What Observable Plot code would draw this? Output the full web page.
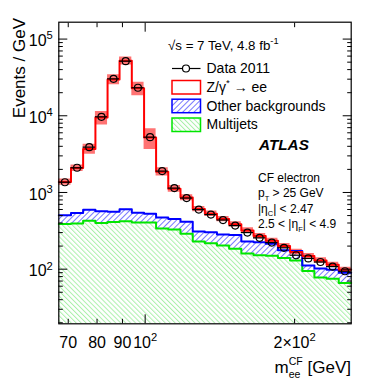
<!DOCTYPE html>
<html><head><meta charset="utf-8">
<script src="https://cdn.jsdelivr.net/npm/d3@7"></script>
<script src="https://cdn.jsdelivr.net/npm/@observablehq/plot@0.6"></script>
<style>html,body{margin:0;padding:0;background:#fff}svg{display:block}</style>
</head><body><div id="chart"></div>
<script>
// ---- data ----
const binEdges = [67, 70.9, 75.0, 79.4, 84.0, 88.8, 94.0, 99.5, 105.2, 111.3, 117.8, 124.7, 131.9, 139.5, 147.6, 156.2, 165.3, 174.9, 185.1, 195.8, 207.2, 219.2, 231.9, 245.4, 260];
const data2011 = [1360, 2100, 3900, 9700, 30300, 51500, 23200, 5260, 1900, 1140, 845, 598, 515, 437, 370, 300, 256, 222, 190, 152, 138, 124, 108, 94];
const predictionTotal = [1370, 2080, 3700, 9500, 29800, 52000, 22800, 5200, 1870, 1120, 860, 610, 530, 450, 385, 320, 270, 235, 200, 168, 148, 130, 114, 98];
const predictionRelUnc = [0.09, 0.10, 0.15, 0.20, 0.15, 0.12, 0.20, 0.30, 0.12, 0.10, 0.09, 0.08, 0.08, 0.08, 0.08, 0.08, 0.08, 0.08, 0.08, 0.08, 0.08, 0.08, 0.08, 0.08];
const backgroundStackTop = [505, 540, 595, 568, 560, 605, 545, 530, 472, 450, 415, 310, 303, 284, 280, 230, 225, 215, 176, 172, 112, 102, 98, 90];
const multijets = [388, 395, 427, 400, 412, 420, 405, 405, 340, 328, 289, 230, 218, 204, 184, 160, 152, 150, 140, 130, 95, 78, 75, 66];

const xDomain = [67, 260];
const yDomain = [19.4, 166000];
const yMajorTicks = [100, 1000, 10000, 100000];
const yMajorLabels = ["10^{2}", "10^{3}", "10^{4}", "10^{5}"];
const yMinorTicks = [20,30,40,50,60,70,80,90,200,300,400,500,600,700,800,900,2000,3000,4000,5000,6000,7000,8000,9000,20000,30000,40000,50000,60000,70000,80000,90000];
const xLabelTicks = [70, 80, 90, 100, 200];
const xTickLabels = ["70", "80", "90", "10^{2}", "2×10^{2}"];
const xMajorTicks = [100];
const xMinorTicks = [70, 80, 90, 200];

const legendLabels = ["Data 2011", "Z/γ^{*} → ee", "Other backgrounds", "Multijets"];
const energyLabel = "√s = 7 TeV, 4.8 fb^{-1}";
const cutLabels = ["CF electron", "p_{T} > 25 GeV", "|η_{C}| < 2.47", "2.5 < |η_{F}| < 4.9"];

// ---- build tables ----
const bins = data2011.map((d, i) => ({
  lo: binEdges[i], hi: binEdges[i + 1], mid: Math.sqrt(binEdges[i] * binEdges[i + 1]),
  data: d, mc: predictionTotal[i], unc: predictionRelUnc[i],
  bkg: backgroundStackTop[i], mj: multijets[i]
}));
const steps = (f) => bins.flatMap(b => [{x: b.lo, ...f(b)}, {x: b.hi, ...f(b)}]);

const FONT = "'Liberation Sans', Arial, Helvetica, sans-serif";
const plot = Plot.plot({
  width: 369, height: 386,
  marginLeft: 58.3, marginRight: 18.3, marginTop: 21.7, marginBottom: 62.7,
  style: {fontFamily: FONT, fontSize: "16px", background: "#fff", color: "#000", overflow: "visible"},
  x: {type: "log", domain: xDomain, label: null},
  y: {type: "log", domain: yDomain, label: null},
  marks: [
    Plot.areaY(steps(b => ({y1: yDomain[0], y2: b.mj})), {x: "x", y1: "y1", y2: "y2", fill: "url(#hatchGreen)"}),
    Plot.areaY(steps(b => ({y1: b.mj, y2: b.bkg})), {x: "x", y1: "y1", y2: "y2", fill: "url(#hatchBlue)"}),
    Plot.areaY(steps(b => ({y1: b.mc * (1 - b.unc), y2: b.mc * (1 + b.unc)})), {x: "x", y1: "y1", y2: "y2", fill: "#ff0000", fillOpacity: 0.55}),
    Plot.line(steps(b => ({y: b.mj})), {x: "x", y: "y", stroke: "#00e600", strokeWidth: 2}),
    Plot.line(steps(b => ({y: b.bkg})), {x: "x", y: "y", stroke: "#0000ff", strokeWidth: 2}),
    Plot.line(steps(b => ({y: b.mc})), {x: "x", y: "y", stroke: "#ff0000", strokeWidth: 2}),
    Plot.ruleY(bins, {y: "data", x1: "lo", x2: "hi", stroke: "#000", strokeWidth: 1.2}),
    Plot.dot(bins, {x: "mid", y: "data", r: 3.5, stroke: "#000", strokeWidth: 1.2, fill: "none"}),
    // ticks (inside, ROOT style)
    Plot.axisY({anchor: "left", ticks: yMajorTicks, tickSize: -9, tickFormat: () => "", label: null}),
    Plot.axisY({anchor: "left", ticks: yMinorTicks, tickSize: -4.5, tickFormat: () => "", label: null}),
    Plot.axisY({anchor: "right", ticks: yMajorTicks, tickSize: -9, tickFormat: () => "", label: null}),
    Plot.axisY({anchor: "right", ticks: yMinorTicks, tickSize: -4.5, tickFormat: () => "", label: null}),
    Plot.axisX({anchor: "bottom", ticks: xMajorTicks, tickSize: -9, tickFormat: () => "", label: null}),
    Plot.axisX({anchor: "bottom", ticks: xMinorTicks, tickSize: -4.5, tickFormat: () => "", label: null}),
    Plot.axisX({anchor: "top", ticks: xMajorTicks, tickSize: -9, tickFormat: () => "", label: null}),
    Plot.axisX({anchor: "top", ticks: xMinorTicks, tickSize: -4.5, tickFormat: () => "", label: null}),
    // tick labels
    Plot.text(yMajorTicks.map((v, i) => ({v, t: yMajorLabels[i]})), {y: "v", text: "t", frameAnchor: "left", textAnchor: "end", dx: -6, dy: 2, fontSize: 16}),
    Plot.text(xLabelTicks.map((v, i) => ({v, t: xTickLabels[i]})), {x: "v", text: "t", frameAnchor: "bottom", lineAnchor: "top", dy: 13, fontSize: 16}),
    Plot.frame({stroke: "#000", strokeWidth: 1.2})
  ]
});
document.getElementById("chart").append(plot);

const svg = d3.select(plot);
const defs = svg.insert("defs", ":first-child");
const pg = defs.append("pattern").attr("id", "hatchGreen").attr("patternUnits", "userSpaceOnUse")
  .attr("width", 3.5).attr("height", 3.5).attr("patternTransform", "rotate(-45)");
pg.append("rect").attr("width", 3.5).attr("height", 3.5).attr("fill", "#fff");
pg.append("line").attr("x1", 0.5).attr("x2", 0.5).attr("y1", 0).attr("y2", 3.5).attr("stroke", "#aaf0aa").attr("stroke-width", 1);
const pb = defs.append("pattern").attr("id", "hatchBlue").attr("patternUnits", "userSpaceOnUse")
  .attr("width", 4).attr("height", 4).attr("patternTransform", "rotate(45)");
pb.append("rect").attr("width", 4).attr("height", 4).attr("fill", "#fff");
pb.append("line").attr("x1", 0.5).attr("x2", 0.5).attr("y1", 0).attr("y2", 4).attr("stroke", "#7878ff").attr("stroke-width", 1);

// annotations
const ann = svg.append("g").attr("font-family", FONT).attr("fill", "#000").attr("text-anchor", "start");
ann.append("text").attr("transform", "translate(25,18) rotate(-90)").attr("text-anchor", "end").attr("font-size", 17).text("Events / GeV");
ann.append("text").attr("x", 351).attr("y", 373).attr("text-anchor", "end").attr("font-size", 17).text("m_{ee}^{CF} [GeV]");
ann.append("text").attr("x", 168).attr("y", 49.5).attr("font-size", 13.3).text(energyLabel);
const legY = [73, 92, 110.5, 129];
legendLabels.forEach((t, i) => ann.append("text").attr("x", 206.5).attr("y", legY[i]).attr("font-size", 14).text(t));
// legend swatches
const lg = svg.append("g");
lg.append("line").attr("x1", 172).attr("x2", 200.5).attr("y1", 68.5).attr("y2", 68.5).attr("stroke", "#000").attr("stroke-width", 1.2);
lg.append("circle").attr("cx", 186).attr("cy", 68.5).attr("r", 3.5).attr("fill", "#fff").attr("stroke", "#000").attr("stroke-width", 1.2);
lg.append("rect").attr("x", 172).attr("y", 80.5).attr("width", 28.5).attr("height", 13.5).attr("fill", "#fff").attr("stroke", "#ff0000").attr("stroke-width", 1.5);
lg.append("rect").attr("x", 172).attr("y", 99.2).attr("width", 28.5).attr("height", 13.5).attr("fill", "url(#hatchBlue)").attr("stroke", "#0000ff").attr("stroke-width", 1.5);
lg.append("rect").attr("x", 172).attr("y", 118).attr("width", 28.5).attr("height", 13.5).attr("fill", "url(#hatchGreen)").attr("stroke", "#00e600").attr("stroke-width", 1.5);
ann.append("text").attr("x", 259).attr("y", 150).attr("font-size", 15.3).attr("font-weight", "bold").attr("font-style", "italic").text("ATLAS");
cutLabels.forEach((t, i) => ann.append("text").attr("x", 258).attr("y", 181.5 + 15.5 * i).attr("font-size", 12).text(t));

// render ^{..} and _{..} as real super/subscripts
const SVGNS = "http://www.w3.org/2000/svg";
function richify(el) {
  const s = el.textContent;
  if (!/[\^_]\{/.test(s)) return;
  const fs = parseFloat(getComputedStyle(el).fontSize);
  while (el.firstChild) el.removeChild(el.firstChild);
  let shift = 0, lastSub = null;
  for (const m of s.matchAll(/([_^])\{([^}]*)\}|([^_^]+)/g)) {
    const t = document.createElementNS(SVGNS, "tspan");
    let target = 0, size = fs;
    const stacked = m[1] === "^" && lastSub;
    if (m[3] !== undefined) { t.textContent = m[3]; }
    else if (m[1] === "^") { target = (stacked ? -0.5 : -0.42) * fs; size = (stacked ? 0.62 : 0.7) * fs; t.textContent = m[2]; }
    else { target = 0.3 * fs; size = 0.62 * fs; t.textContent = m[2]; }
    t.setAttribute("dy", target - shift);
    t.setAttribute("font-size", size);
    el.appendChild(t);
    if (stacked) t.setAttribute("dx", -lastSub.getComputedTextLength());
    lastSub = m[1] === "_" ? t : null;
    shift = target;
  }
}
plot.querySelectorAll("text").forEach(richify);
</script>
</body></html>
